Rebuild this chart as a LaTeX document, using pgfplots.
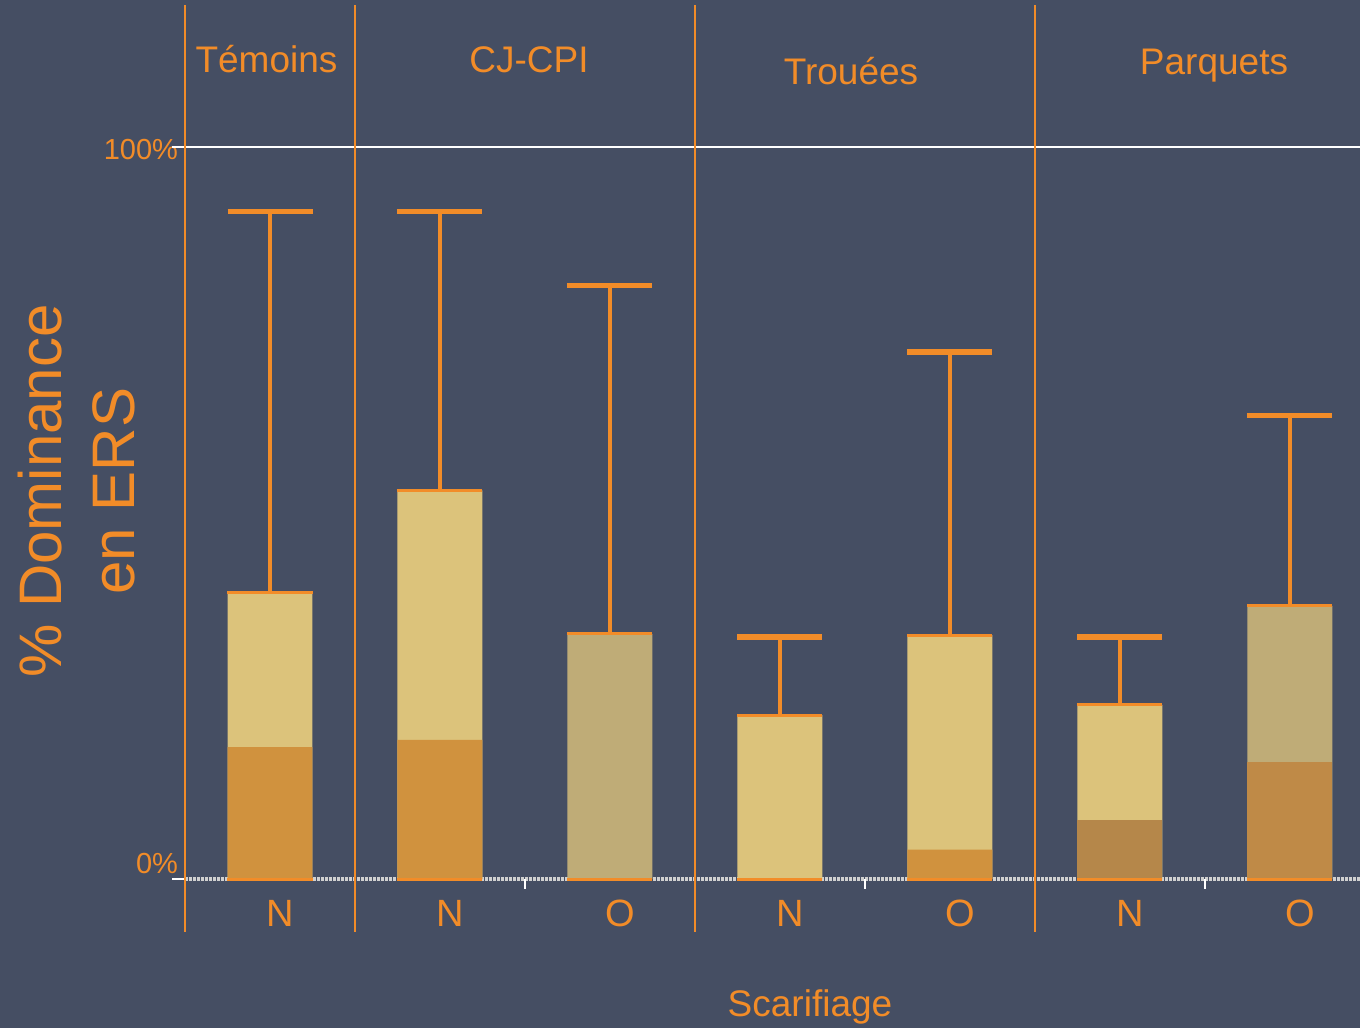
\documentclass[border=0pt]{standalone}
\usepackage{pgfplots}
\pgfplotsset{compat=1.18}
\usepackage{fontspec}
\setmainfont{Liberation Sans}

\definecolor{bg}{HTML}{454E63}
\definecolor{orng}{HTML}{F28C28}
\definecolor{darkA}{HTML}{D0923E}
\definecolor{darkB}{HTML}{B5874A}
\definecolor{darkC}{HTML}{BF8A47}
\definecolor{lightA}{HTML}{DCC37B}
\definecolor{tanA}{HTML}{BFAC77}
\definecolor{zline}{HTML}{D0D0D0}

\pgfplotsset{
  bars/.style={ybar, bar width=0.5, bar shift=0pt, draw=none},
  errs/.style={error bars/.cd, y dir=plus, y explicit, error mark=|,
    error bar style={orng, line width=1.6pt},
    error mark options={orng, line width=2.8pt, mark size=21.25pt}},
  edge/.style={only marks, mark=-, mark size=21.25pt,
    mark options={orng, line width=1.5pt}},
}

\begin{document}
\begin{tikzpicture}
\fill[bg] (0,0) rectangle (680pt,514pt);
\begin{axis}[
  at={(92.5pt,48pt)}, anchor=south west,
  scale only axis, width=587.5pt, height=463.5pt,
  xmin=-0.5, xmax=6.412, ymin=-7.24, ymax=119.4,
  axis line style={draw=none},
  clip=false,
  xtick={0,...,6}, xticklabels={N,N,O,N,O,N,O},
  ytick={100}, yticklabels={100\%},
  extra y ticks={0}, extra y tick labels={0\%},
  extra y tick style={yticklabel style={yshift=9pt}},
  major tick length=0pt,
  tick label style={text=orng},
  xticklabel style={font=\fontsize{19}{19}\selectfont, anchor=base, yshift=2.5pt, xshift=5pt},
  yticklabel style={font=\fontsize{14.5}{14.5}\selectfont, anchor=east, yshift=-1.5pt},
  /pgf/number format/assume math mode=true,
]
% reference lines
\draw[white, line width=1pt] (axis cs:-0.576,100) -- (axis cs:6.412,100);
\draw[white, line width=1pt] (axis cs:-0.576,0) -- (axis cs:-0.5,0);
\draw[zline, line width=2pt, dash pattern=on 1.5pt off 0.5pt] (axis cs:-0.5,0) -- (axis cs:6.412,0);
\draw[white, line width=1pt] (axis cs:1.5,0) -- ([yshift=-5pt]axis cs:1.5,0);
\draw[white, line width=1pt] (axis cs:3.5,0) -- ([yshift=-5pt]axis cs:3.5,0);
\draw[white, line width=1pt] (axis cs:5.5,0) -- ([yshift=-5pt]axis cs:5.5,0);
% group separators
\draw[orng, line width=1.2pt] (axis cs:-0.5,-7.24) -- (axis cs:-0.5,119.4);
\draw[orng, line width=1.2pt] (axis cs:0.5,-7.24) -- (axis cs:0.5,119.4);
\draw[orng, line width=1.2pt] (axis cs:2.5,-7.24) -- (axis cs:2.5,119.4);
\draw[orng, line width=1.2pt] (axis cs:4.5,-7.24) -- (axis cs:4.5,119.4);

% totals (upper segment) with error bars
\addplot[bars, fill=lightA, errs] coordinates {
  (0,39.1) +- (0,52.1)
  (1,53.1) +- (0,38.1)
  (3,22.4) +- (0,10.7)
  (4,33.3) +- (0,38.7)
  (5,23.8) +- (0,9.3)
};
\addplot[bars, fill=tanA, errs] coordinates {
  (2,33.5) +- (0,47.6)
  (6,37.3) +- (0,26.0)
};
% lower segment
\addplot[bars, fill=darkA] coordinates {(0,18.0) (1,19.0) (4,4.0)};
\addplot[bars, fill=darkB] coordinates {(5,8.1)};
\addplot[bars, fill=darkC] coordinates {(6,16.0)};
% top and bottom edges
\addplot[edge] coordinates {(0,39.1) (1,53.1) (2,33.5) (3,22.4) (4,33.3) (5,23.8) (6,37.3)};
\addplot[edge] coordinates {(0,0) (1,0) (2,0) (3,0) (4,0) (5,0) (6,0)};
\end{axis}

\begin{scope}[x=0.5pt, y=-0.5pt, yshift=514pt]
\begin{scope}[every node/.style={text=orng, anchor=base, inner sep=0pt, font=\fontsize{18.5}{18.5}\selectfont}]
\node at (266.5,73) {Témoins};
\node at (529,73) {CJ-CPI};
\node at (851,85) {Trouées};
\node at (1214,75) {Parquets};
\node at (810,1017) {Scarifiage};
\end{scope}
\node[text=orng, rotate=90, align=center, inner sep=0pt, font=\fontsize{30}{36.5}\selectfont] at (77,491) {\% Dominance\\en ERS};
\end{scope}

\pgfresetboundingbox
\path[use as bounding box] (0,0) rectangle (680pt,514pt);
\end{tikzpicture}
\end{document}
